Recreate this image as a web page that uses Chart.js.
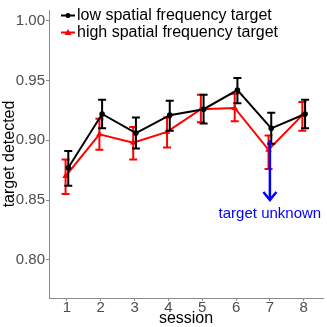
<!DOCTYPE html>
<html>
<head>
<meta charset="utf-8">
<script src="https://cdn.jsdelivr.net/npm/chart.js@4/dist/chart.umd.min.js"></script>
<style>
  html, body { margin: 0; padding: 0; background: #fff; }
  #wrap { width: 327px; height: 327px; }
</style>
</head>
<body>
<div id="wrap"><canvas id="SessionChart" width="327" height="327"></canvas></div>
<script>
// data
const sessions = [1, 2, 3, 4, 5, 6, 7, 8];
const lowMean  = [0.877, 0.922, 0.906, 0.921, 0.926, 0.942, 0.910, 0.922];
const lowUpper = [0.891, 0.934, 0.919, 0.933, 0.938, 0.952, 0.923, 0.934];
const lowLower = [0.862, 0.910, 0.893, 0.908, 0.914, 0.931, 0.897, 0.910];
const highMean  = [0.870, 0.905, 0.898, 0.907, 0.926, 0.927, 0.892, 0.921];
const highUpper = [0.884, 0.918, 0.911, 0.919, 0.938, 0.939, 0.904, 0.932];
const highLower = [0.855, 0.892, 0.884, 0.894, 0.915, 0.916, 0.876, 0.908];
const yTicks = [0.80, 0.85, 0.90, 0.95, 1.00];
const seriesNames = ['low spatial frequency target', 'high spatial frequency target'];
const noteSession = 7;
const noteFrom = 0.90;
const noteTo = 0.85;
const noteText = 'target unknown';

const dodge = 0.04;
const axisGrey = '#8a8a8a';
const tickGrey = '#4d4d4d';
const fontFamily = '"Liberation Sans", Arial, sans-serif';

function points(means, shift){
    return sessions.map((s, i) => ({ x: s + shift, y: means[i] }));
}

// error bars drawn per dataset, through the scales
const errorBars = {
    id: 'errorBars',
    afterDatasetDraw(chart, args){
        const ds = chart.data.datasets[args.index];
        if (!ds.upper) return;
        const ctx = chart.ctx;
        const xs = chart.scales.x, ys = chart.scales.y;
        ctx.save();
        ctx.strokeStyle = ds.borderColor;
        ctx.lineWidth = 2;
        ds.data.forEach((p, i) => {
            const x = xs.getPixelForValue(p.x);
            const top = ys.getPixelForValue(ds.upper[i]);
            const bot = ys.getPixelForValue(ds.lower[i]);
            ctx.beginPath();
            ctx.moveTo(x, top); ctx.lineTo(x, bot);
            ctx.moveTo(x - 4, top); ctx.lineTo(x + 4, top);
            ctx.moveTo(x - 4, bot); ctx.lineTo(x + 4, bot);
            ctx.stroke();
        });
        ctx.restore();
    }
};

// legend inside the plot and the blue arrow note
const extras = {
    id: 'extras',
    afterDraw(chart){
        const ctx = chart.ctx;
        const xs = chart.scales.x, ys = chart.scales.y;
        ctx.save();
        // arrow
        const ax = xs.getPixelForValue(noteSession);
        const y0 = ys.getPixelForValue(noteFrom);
        const y1 = ys.getPixelForValue(noteTo);
        ctx.strokeStyle = '#0000ff';
        ctx.lineWidth = 2.5;
        ctx.beginPath();
        ctx.moveTo(ax, y0); ctx.lineTo(ax, y1);
        ctx.moveTo(ax - 6.5, y1 - 8); ctx.lineTo(ax, y1); ctx.lineTo(ax + 6.5, y1 - 8);
        ctx.stroke();
        ctx.fillStyle = '#0000ff';
        ctx.font = '15px ' + fontFamily;
        ctx.textAlign = 'center';
        ctx.textBaseline = 'top';
        ctx.fillText(noteText, ax, y1 + 6);

        // legend
        ctx.font = '16px ' + fontFamily;
        ctx.textAlign = 'left';
        ctx.textBaseline = 'middle';
        chart.data.datasets.forEach((ds, i) => {
            const y = 15.5 + i * 17;
            ctx.strokeStyle = ds.borderColor;
            ctx.fillStyle = ds.borderColor;
            ctx.lineWidth = 2;
            ctx.beginPath();
            ctx.moveTo(61, y); ctx.lineTo(75, y);
            ctx.stroke();
            if (ds.pointStyle === 'triangle') {
                ctx.beginPath();
                ctx.moveTo(68, y - 3.5); ctx.lineTo(71.5, y + 2.5); ctx.lineTo(64.5, y + 2.5);
                ctx.closePath(); ctx.fill();
            } else {
                ctx.beginPath();
                ctx.arc(68, y, 2.5, 0, Math.PI * 2);
                ctx.fill();
            }
            ctx.fillStyle = '#000';
            ctx.fillText(ds.label, 77, y);
        });
        ctx.restore();
    }
};

const ctx1 = document.getElementById('SessionChart').getContext('2d');
new Chart(ctx1, {
    type: 'line',
    data: {
        datasets: [{
            label: seriesNames[0],
            data: points(lowMean, dodge),
            upper: lowUpper,
            lower: lowLower,
            borderColor: '#000000',
            backgroundColor: '#000000',
            borderWidth: 2,
            pointStyle: 'circle',
            pointRadius: 2.8,
            pointBorderWidth: 0
        }, {
            label: seriesNames[1],
            data: points(highMean, -dodge),
            upper: highUpper,
            lower: highLower,
            borderColor: '#ff0000',
            backgroundColor: '#ff0000',
            borderWidth: 2,
            pointStyle: 'triangle',
            pointRadius: 3.8,
            pointBorderWidth: 0
        }]
    },
    options: {
        responsive: false,
        animation: false,
        layout: { padding: { top: 5, right: 2, left: 0, bottom: 0 } },
        plugins: {
            legend: { display: false },
            tooltip: { enabled: false }
        },
        scales: {
            x: {
                type: 'linear',
                min: 0.47,
                max: 8.57,
                afterBuildTicks: (scale) => { scale.ticks = sessions.map(v => ({ value: v })); },
                afterFit: (scale) => { scale.height = 29; },
                grid: { drawOnChartArea: false, drawTicks: true, tickLength: 3, color: axisGrey },
                border: { display: true, color: axisGrey, width: 1 },
                ticks: {
                    color: tickGrey,
                    padding: -2,
                    font: { size: 15, family: fontFamily },
                    callback: (v) => String(v)
                },
                title: {
                    display: true,
                    text: 'session',
                    color: '#000',
                    padding: { top: 0, bottom: -1 },
                    font: { size: 16, family: fontFamily }
                }
            },
            y: {
                min: 0.768,
                max: 1.009,
                afterBuildTicks: (scale) => { scale.ticks = yTicks.map(v => ({ value: v })); },
                afterFit: (scale) => { scale.width = 49; },
                grid: { drawOnChartArea: false, drawTicks: true, tickLength: 3, color: axisGrey },
                border: { display: true, color: axisGrey, width: 1 },
                ticks: {
                    color: tickGrey,
                    padding: 1,
                    font: { size: 15, family: fontFamily },
                    callback: (v) => v.toFixed(2)
                },
                title: {
                    display: true,
                    text: 'target detected',
                    color: '#000',
                    padding: { top: 0, bottom: 0 },
                    font: { size: 16, family: fontFamily }
                }
            }
        }
    },
    plugins: [errorBars, extras]
});
</script>
</body>
</html>
